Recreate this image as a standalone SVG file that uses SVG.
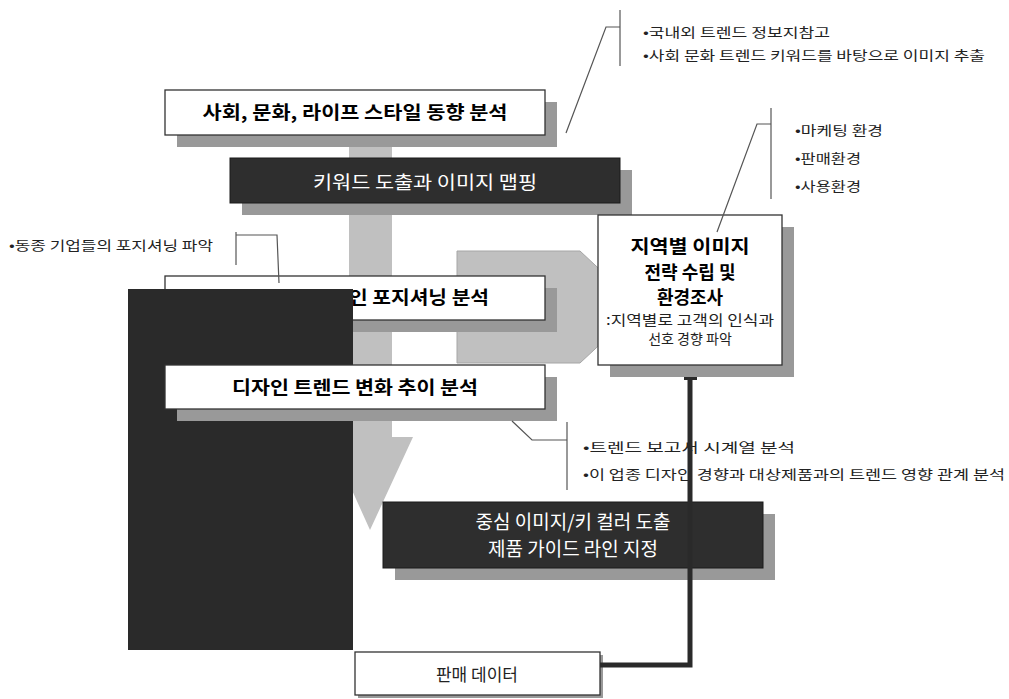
<svg xmlns="http://www.w3.org/2000/svg" width="1009" height="699" viewBox="0 0 1009 699">
<style>
text{font-family:"Noto Sans CJK KR","Noto Sans",sans-serif;}
.box{fill:#fff;stroke:#333;stroke-width:1.3}
.dark{fill:#2e2e2e;stroke:#1a1a1a;stroke-width:1}
.shadow{fill:#999}
.bt{font-size:18px;font-weight:bold;fill:#000;text-anchor:middle}
.wt{font-size:18px;fill:#fff;text-anchor:middle}
.note{font-size:13px;fill:#222}
.ln{fill:none;stroke:#555;stroke-width:1.2}
.bg{fill:#c0c0c0}
</style>
<rect width="1009" height="699" fill="#fff"/>
<g id="flow-arrows">
<polygon class="bg" points="457,251 580,251 640,307 580,363 457,363" stroke="#a6a6a6" stroke-width="1"/>
<polygon class="bg" points="349,140 392,140 392,437 413,437 370,530 328,437 349,437"/>
</g>
<g id="node-social">
<rect class="shadow" x="177" y="102" width="380" height="45"/>
<rect class="box" x="165" y="90" width="380" height="45"/>
<text class="bt" x="355" y="119" textLength="305" lengthAdjust="spacingAndGlyphs">사회, 문화, 라이프 스타일 동향 분석</text>
</g>
<g id="node-keyword">
<rect class="shadow" x="242" y="170" width="390" height="45"/>
<rect class="dark" x="230" y="158" width="390" height="45"/>
<text class="wt" x="425" y="189" textLength="224" lengthAdjust="spacingAndGlyphs">키워드 도출과 이미지 맵핑</text>
</g>
<g id="node-positioning">
<rect class="shadow" x="177" y="288" width="380" height="44"/>
<rect class="box" x="165" y="276" width="380" height="44"/>
<text class="bt" x="489" y="304" style="text-anchor:end" textLength="140" lengthAdjust="spacingAndGlyphs">인 포지셔닝 분석</text>
</g>
<g id="black-panel">
<rect x="128" y="289" width="225" height="361" fill="#2a2a2a"/>
</g>
<g id="node-design-trend">
<rect class="shadow" x="177" y="377" width="380" height="44"/>
<rect class="box" x="165" y="365" width="380" height="44"/>
<text class="bt" x="355" y="394" textLength="246" lengthAdjust="spacingAndGlyphs">디자인 트렌드 변화 추이 분석</text>
</g>
<g id="node-region">
<rect class="shadow" x="610" y="227" width="184" height="150"/>
<rect class="box" x="598" y="215" width="184" height="150"/>
<text class="bt" x="690" y="253" textLength="119" lengthAdjust="spacingAndGlyphs">지역별 이미지</text>
<text class="bt" x="690" y="279">전략 수립 및</text>
<text class="bt" x="690" y="304">환경조사</text>
<text x="690" y="325" text-anchor="middle" font-size="14" fill="#222" textLength="168" lengthAdjust="spacingAndGlyphs">:지역별로 고객의 인식과</text>
<text x="690" y="344" text-anchor="middle" font-size="14" fill="#222">선호 경향 파악</text>
</g>
<g id="node-core">
<rect class="shadow" x="395" y="514" width="380" height="66"/>
<rect class="dark" x="383" y="502" width="380" height="66"/>
<text class="wt" x="573" y="529" style="font-size:19px">중심 이미지/키 컬러 도출</text>
<text class="wt" x="573" y="556" style="font-size:19px">제품 가이드 라인 지정</text>
</g>
<g id="node-sales">
<rect class="shadow" x="358" y="655" width="245" height="43"/>
<rect class="box" x="355" y="652" width="245" height="43"/>
<text x="477" y="681" text-anchor="middle" font-size="17" fill="#222">판매 데이터</text>
</g>
<g id="notes">
<text class="note" x="643" y="37" textLength="187" lengthAdjust="spacingAndGlyphs">•국내외 트렌드 정보지참고</text>
<text class="note" x="643" y="60" textLength="342" lengthAdjust="spacingAndGlyphs">•사회 문화 트렌드 키워드를 바탕으로 이미지 추출</text>
<text class="note" x="795" y="135" textLength="88" lengthAdjust="spacingAndGlyphs">•마케팅 환경</text>
<text class="note" x="795" y="163" textLength="66" lengthAdjust="spacingAndGlyphs">•판매환경</text>
<text class="note" x="795" y="191" textLength="66" lengthAdjust="spacingAndGlyphs">•사용환경</text>
<text class="note" x="9" y="250" textLength="204" lengthAdjust="spacingAndGlyphs">•동종 기업들의 포지셔닝 파악</text>
<text class="note" x="583" y="452" textLength="212" lengthAdjust="spacingAndGlyphs">•트렌드 보고서 시계열 분석</text>
<text class="note" x="583" y="479" textLength="422" lengthAdjust="spacingAndGlyphs">•이 업종 디자인 경향과  대상제품과의 트렌드 영향 관계 분석</text>
</g>
<g id="connectors">
<polyline class="ln" points="620,10 620,66"/>
<polyline class="ln" points="620,27 606,27 566,133"/>
<polyline class="ln" points="771,108 771,199"/>
<polyline class="ln" points="771,124 757,124 717,232"/>
<polyline class="ln" points="236,232 236,265"/>
<polyline class="ln" points="236,235 277,235 279,283"/>
<polyline class="ln" points="512,421 532,440 567,440"/>
<polyline class="ln" points="567,422 567,490"/>
<polyline points="690,379 690,665 600,665" fill="none" stroke="#2a2a2a" stroke-width="5"/>
<rect x="684" y="377" width="13" height="3" fill="#2a2a2a"/>
</g>
</svg>
